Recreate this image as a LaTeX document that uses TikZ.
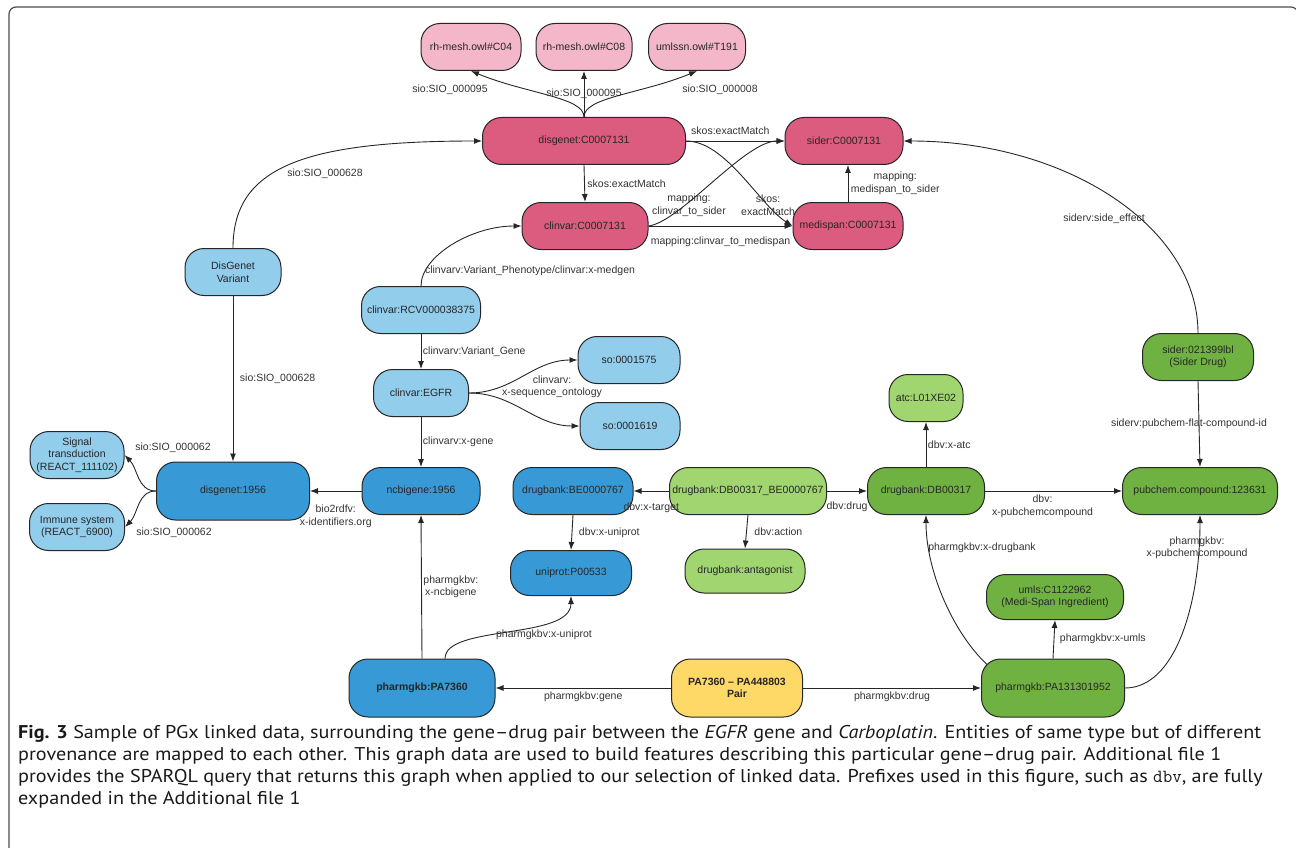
\documentclass[tikz,border=0pt]{standalone}
\usepackage{fontspec}
\setmainfont{Liberation Sans}
\newfontfamily\capfont[FakeStretch=1.09]{PT Sans}
\usepackage{xcolor}
\usepackage{tikz}
\usetikzlibrary{arrows.meta, positioning, calc}

\definecolor{termpink}{RGB}{244,182,201}
\definecolor{rosered}{RGB}{219,92,126}
\definecolor{paleblue}{RGB}{146,205,236}
\definecolor{midblue}{RGB}{55,154,214}
\definecolor{palegreen}{RGB}{160,213,111}
\definecolor{midgreen}{RGB}{112,178,66}
\definecolor{pairyellow}{RGB}{255,217,104}

\begin{document}
\begin{tikzpicture}[
  x=1pt, y=-1pt,
  box/.style     = {draw=black!85, line width=1pt, rounded corners=19pt,
                    minimum height=47pt, inner sep=1pt, align=center, text=black!85,
                    font=\fontsize{10.5}{12.5}\selectfont},
  term/.style    = {box, fill=termpink},
  disease/.style = {box, fill=rosered},
  variant/.style = {box, fill=paleblue},
  gene/.style    = {box, fill=midblue},
  drugx/.style   = {box, fill=palegreen},
  drug/.style    = {box, fill=midgreen},
  pairbox/.style = {box, fill=pairyellow},
  arr/.style     = {-{Latex[length=8pt, width=6pt]}, line width=0.9pt, black!85},
  lbl/.style     = {font=\fontsize{10.5}{12.5}\selectfont, text=black!80,
                    align=center, inner sep=1.5pt},
]
\useasboundingbox (0,0) rectangle (1296,848);
\clip (0,0) rectangle (1296,848);

%% outer frame
\draw[line width=1.2pt, black!70, rounded corners=7pt]
  (9,880) -- (9,7) -- (1298,7) -- (1298,880);

%% Nodes: disease side (pink)
\node[term, minimum width=100pt] (c04)  at (471,47) {rh-mesh.owl\#C04};
\node[term, minimum width=96pt]  (c08)  at (584,47) {rh-mesh.owl\#C08};
\node[term, minimum width=97pt]  (t191) at (697,47) {umlssn.owl\#T191};
\node[disease, minimum width=203pt] (disC)  at (584,141) {disgenet:C0007131};
\node[disease, minimum width=118pt] (sideC) at (844,141) {sider:C0007131};
\node[disease, minimum width=126pt] (clinC) at (585,226) {clinvar:C0007131};
\node[disease, minimum width=110pt] (mediC) at (848,226) {medispan:C0007131};

%% Nodes: variant / gene side (blue)
\node[variant, minimum width=96pt]  (dgv)    at (233,272) {DisGenet\\Variant};
\node[variant, minimum width=119pt] (rcv)    at (421,310) {clinvar:RCV000038375};
\node[variant, minimum width=95pt]  (egfr)   at (421,393) {clinvar:EGFR};
\node[variant, minimum width=102pt] (so1575) at (629,360) {so:0001575};
\node[variant, minimum width=100pt] (so1619) at (630,426) {so:0001619};
\node[variant, minimum width=94pt]  (sig)    at (77,455)  {Signal\\transduction\\(REACT\_111102)};
\node[variant, minimum width=95pt]  (imm)    at (77,527)  {Immune system\\(REACT\_6900)};
\node[gene, minimum width=153pt, minimum height=58pt] (dis1956) at (233,491) {disgenet:1956};
\node[gene, minimum width=118pt] (ncbi) at (421,491) {ncbigene:1956};
\node[gene, minimum width=120pt] (dbBE) at (573,491) {drugbank:BE0000767};
\node[gene, minimum width=121pt, minimum height=45pt] (uni) at (571,573) {uniprot:P00533};
\node[gene, minimum width=146pt, minimum height=58pt,
      font=\fontsize{10.5}{12.5}\selectfont\bfseries] (pa7360) at (422,688) {pharmgkb:PA7360};

%% Nodes: drug side (green)
\node[drugx, minimum width=157pt] (dbpair) at (748,491) {drugbank:DB00317\_BE0000767};
\node[drugx, minimum width=120pt, minimum height=44pt] (antag) at (745,571) {drugbank:antagonist};
\node[drugx, minimum width=74pt] (atc) at (926,398) {atc:L01XE02};
\node[drug, minimum width=117pt] (db317)   at (926,491)  {drugbank:DB00317};
\node[drug, minimum width=155pt] (pubchem) at (1200,491) {pubchem.compound:123631};
\node[drug, minimum width=111pt] (siderD)  at (1198,357) {sider:021399lbl\\(Sider Drug)};
\node[drug, minimum width=137pt, minimum height=45pt] (umls) at (1055,597) {umls:C1122962\\(Medi-Span Ingredient)};
\node[drug, minimum width=143pt, minimum height=58pt] (pa131) at (1053,688) {pharmgkb:PA131301952};

%% the gene-drug pair
\node[pairbox, minimum width=131pt, minimum height=58pt,
      font=\fontsize{10.5}{12.5}\selectfont\bfseries] (pair) at (737,688) {PA7360 – PA448803\\Pair};

%% disgenet:C0007131 -> terms
\draw[arr] (disC.north) .. controls +(0,-20) and +(56,23) .. (c04.south);
\node[lbl] at (450,90) {sio:SIO\_000095};
\draw[arr] (disC.north) -- node[lbl] {sio:SIO\_000095} (c08.south);
\draw[arr] (disC.north) .. controls +(0,-20) and +(-56,23) .. (t191.south);
\node[lbl] at (720,90) {sio:SIO\_000008};

%% mappings between the disease ids
\draw[arr] (disC.east) -- node[lbl, above=4pt, pos=0.45] {skos:exactMatch} (sideC.west);
\draw[arr] (disC.south) -- node[lbl, right=1pt] {skos:exactMatch} (clinC.north);
\draw[arr] (disC.east) .. controls +(40,0) and +(-33,-21) .. (mediC.west);
\node[lbl] at (768,205) {skos:\\exactMatch};
\draw[arr] (clinC.east) .. controls +(32,-4) and +(-40,0) .. (sideC.west);
\node[lbl] at (689,205) {mapping:\\clinvar\_to\_sider};
\draw[arr] (clinC.east) -- node[lbl, below=9pt] {mapping:clinvar\_to\_medispan} (mediC.west);
\draw[arr] (mediC.north) -- node[lbl, right=1pt] {mapping:\\medispan\_to\_sider} (mediC.north |- sideC.south);
\draw[arr] (siderD.north) .. controls +(0,-106) and +(163,0) .. (sideC.east);
\node[lbl] at (1104,219) {siderv:side\_effect};

%% variants and genes
\draw[arr] (dgv.north) .. controls +(0,-80) and +(-180,0) .. (disC.west);
\node[lbl] at (325,174) {sio:SIO\_000628};
\draw[arr] (dgv.south) -- node[lbl, right=5pt] {sio:SIO\_000628} (dis1956.north);
\draw[arr] (rcv.north) .. controls +(0,-30) and +(-50,0) .. (clinC.west);
\node[lbl] at (530,271) {clinvarv:Variant\_Phenotype/clinvar:x-medgen};
\draw[arr] (rcv.south) -- node[lbl, right=0pt] {clinvarv:Variant\_Gene} (egfr.north);
\draw[arr] (egfr.east) to[out=0, in=180] (so1575.west);
\draw[arr] (egfr.east) to[out=0, in=180] (so1619.west);
\node[lbl] at (552,387) {clinvarv:\\x-sequence\_ontology};
\draw[arr] (egfr.south) -- node[lbl, right=0pt] {clinvarv:x-gene} (ncbi.north);
\draw[arr] (ncbi.west) -- node[lbl, below=12pt] {bio2rdfv:\\x-identifiers.org} (dis1956.east);
\draw[arr] (dis1956.west) to[out=180, in=-45] (sig.east);
\node[lbl] at (173,448) {sio:SIO\_000062};
\draw[arr] (dis1956.west) to[out=180, in=45] (imm.east);
\node[lbl] at (174,533) {sio:SIO\_000062};

%% drugbank
\draw[arr] (dbpair.west) -- node[lbl, below=10pt] {dbv:x-target} (dbBE.east);
\draw[arr] (dbpair.east) -- node[lbl, below=9pt] {dbv:drug} (db317.west);
\draw[arr] (dbpair.south) -- node[lbl, right=6pt] {dbv:action} (antag.north);
\draw[arr] (dbBE.south) -- node[lbl, right=5pt] {dbv:x-uniprot} (uni.north);
\draw[arr] (db317.north) -- node[lbl, right=0pt] {dbv:x-atc} (atc.south);
\draw[arr] (db317.east) -- node[lbl, below=2pt, pos=0.42] {dbv:\\x-pubchemcompound} (pubchem.west);
\draw[arr] (siderD.south) -- node[lbl, xshift=-10pt] {siderv:pubchem-flat-compound-id} (pubchem.north);

%% pharmgkb
\draw[arr] (pa7360.north) -- node[lbl, right=0pt] {pharmgkbv:\\x-ncbigene} (ncbi.south);
\draw[arr] (pa7360.52) .. controls +(0,-34) and +(0,44) .. (uni.south);
\node[lbl] at (544,635) {pharmgkbv:x-uniprot};
\draw[arr] (pair.west) -- node[lbl, below=2pt] {pharmgkbv:gene} (pa7360.east);
\draw[arr] (pair.east) -- node[lbl, below=2pt] {pharmgkbv:drug} (pa131.west);
\draw[arr] (pa131.north) -- node[lbl, right=4pt] {pharmgkbv:x-umls} (umls.south);
\draw[arr] ($(pa131.north west)+(6,6)$) .. controls +(-34,-32) and +(0,56) .. (db317.south);
\node[lbl] at (982,548) {pharmgkbv:x-drugbank};
\draw[arr] (pa131.east) .. controls +(50,0) and +(0,90) .. (pubchem.south);
\node[lbl] at (1197,548) {pharmgkbv:\\x-pubchemcompound};

%% caption
\node[anchor=north west, align=left, inner sep=0pt, text=black!90,
      font=\capfont\fontsize{18.5}{22}\selectfont] (caption) at (18,725)
  {\textbf{Fig. 3} Sample of PGx linked data, surrounding the gene–drug pair between the \textit{EGFR} gene and \textit{Carboplatin}. Entities of same type but of different\\
   provenance are mapped to each other. This graph data are used to build features describing this particular gene–drug pair. Additional file 1\\
   provides the SPARQL query that returns this graph when applied to our selection of linked data. Prefixes used in this figure, such as {\ttfamily dbv}, are fully\\
   expanded in the Additional file 1};

\end{tikzpicture}
\end{document}
